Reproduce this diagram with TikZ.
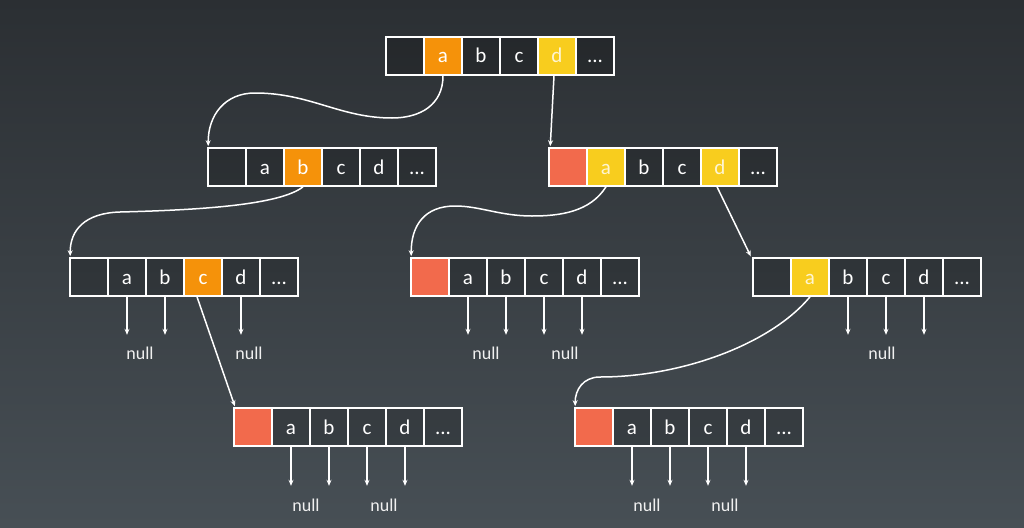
\documentclass[tikz,border=0pt]{standalone}
\usepackage{fontspec}
\setmainfont{Carlito}
\usetikzlibrary{arrows.meta}
\definecolor{bgtop}{RGB}{43,47,51}
\definecolor{bgbot}{RGB}{71,79,85}
\definecolor{corange}{RGB}{245,146,10}
\definecolor{cyellow}{RGB}{248,205,30}
\definecolor{ccoral}{RGB}{242,106,76}
\newcommand\elip{...}
\newcommand\arrayrow[4]{\foreach[count=\i] \s/\t in {#4}{\node[cell,\s] (#1-\i) at ({#2+19+38*(\i-1)},{#3+19}) {\t};}}
\begin{document}
\begin{tikzpicture}[x=1pt,y=-1pt,
  cell/.style={draw=white, line width=1.6pt, minimum width=38pt, minimum height=38pt, inner sep=0pt, text height=14pt, text depth=0pt, text=white, font=\fontsize{21}{21}\selectfont},
  cD/.style={fill=black, fill opacity=0.17, text opacity=1},
  cO/.style={fill=corange},
  cY/.style={fill=cyellow, text=white!80!cyellow},
  cC/.style={fill=ccoral},
  conn/.style={draw=white, line width=1.5pt, -{Stealth[length=6pt,width=5pt]}, shorten >=1pt},
  nullarr/.style={draw=white, line width=1.4pt, -{Stealth[length=6pt,width=5pt]}},
  nulltxt/.style={text=white!88!gray, font=\fontsize{18}{18}\selectfont, inner sep=0pt}]
\fill[top color=bgtop, bottom color=bgbot] (0,0) rectangle (1024,527);
\useasboundingbox (0,0) rectangle (1024,527);

\arrayrow{T}{386}{37}{cD/{},cO/a,cD/b,cD/c,cY/d,cD/\elip}
\arrayrow{L2L}{208}{148}{cD/{},cD/a,cO/b,cD/c,cD/d,cD/\elip}
\arrayrow{L2R}{549}{148}{cC/{},cY/a,cD/b,cD/c,cY/d,cD/\elip}
\arrayrow{L3L}{70}{258}{cD/{},cD/a,cD/b,cO/c,cD/d,cD/\elip}
\arrayrow{L3M}{411}{258}{cC/{},cD/a,cD/b,cD/c,cD/d,cD/\elip}
\arrayrow{L3R}{753}{258}{cD/{},cY/a,cD/b,cD/c,cD/d,cD/\elip}
\arrayrow{L4L}{234}{408}{cC/{},cD/a,cD/b,cD/c,cD/d,cD/\elip}
\arrayrow{L4R}{575}{408}{cC/{},cD/a,cD/b,cD/c,cD/d,cD/\elip}

% null pointers
\foreach \c in {2,3,5} \draw[nullarr] (L3L-\c.south) -- ++(0,38);
\foreach \c in {2,3,4,5} \draw[nullarr] (L3M-\c.south) -- ++(0,38);
\foreach \c in {3,4,5} \draw[nullarr] (L3R-\c.south) -- ++(0,38);
\foreach \c in {2,3,4,5} \draw[nullarr] (L4L-\c.south) -- ++(0,39);
\foreach \c in {2,3,4,5} \draw[nullarr] (L4R-\c.south) -- ++(0,39);

\node[nulltxt] (n1) at (140,353) {null};
\node[nulltxt] (n2) at (249,353) {null};
\node[nulltxt] (n3) at (486,353) {null};
\node[nulltxt] (n4) at (565,353) {null};
\node[nulltxt] (n5) at (882,353) {null};
\node[nulltxt] (n6) at (306,505) {null};
\node[nulltxt] (n7) at (384,505) {null};
\node[nulltxt] (n8) at (647,505) {null};
\node[nulltxt] (n9) at (725,505) {null};

% connectors
\draw[conn] (T-2.south) .. controls (443,105) and (420,118) .. (392,118)
  .. controls (340,118) and (310,93) .. (255,93)
  .. controls (225,93) and (208,115) .. ([xshift=1pt]L2L-1.north west);
\draw[conn] ([xshift=-3pt]T-5.south) -- ([xshift=2pt]L2R-1.north west);
\draw[conn] (L2L-3.south) .. controls (280,205) and (200,210) .. (120,212)
  .. controls (85,213) and (70,230) .. ([xshift=1pt]L3L-1.north west);
\draw[conn] (L2R-2.south) .. controls (590,212) and (560,216) .. (532,216)
  .. controls (500,216) and (480,206) .. (455,206)
  .. controls (425,206) and (411,225) .. ([xshift=1pt]L3M-1.north west);
\draw[conn] ([xshift=-3pt]L2R-5.south) -- ([xshift=-1pt]L3R-1.north west);
\draw[conn] ([xshift=-6pt]L3L-4.south) -- ([xshift=2pt]L4L-1.north west);
\draw[conn] (L3R-2.south) .. controls (770,345) and (680,377) .. (600,377)
  .. controls (583,377) and (575,390) .. ([xshift=1pt]L4R-1.north west);
\end{tikzpicture}
\end{document}
